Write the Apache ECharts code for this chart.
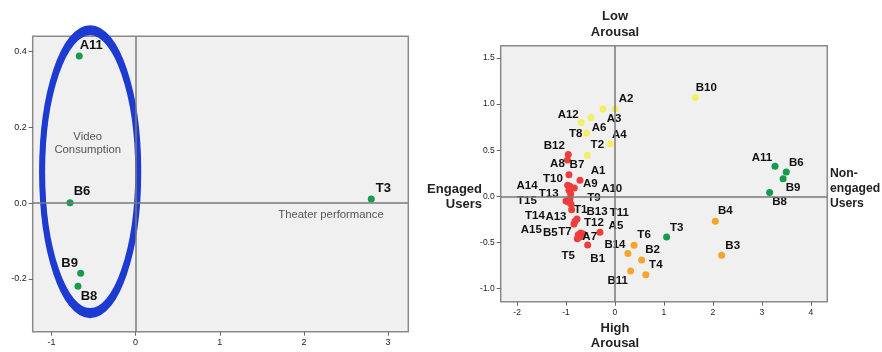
<!DOCTYPE html>
<html><head><meta charset="utf-8">
<script src="https://cdn.jsdelivr.net/npm/echarts@6/dist/echarts.min.js"></script>
<style>html,body{margin:0;padding:0;background:#fff}#c{width:882px;height:352px}</style>
</head><body><div id="c"></div>
<script>
// ---------- Left panel data ----------
const leftNames = ['A11', 'B6', 'B9', 'B8', 'T3'];
const leftX = [-0.67, -0.78, -0.653, -0.685, 2.80];
const leftY = [0.388, 0.001, -0.185, -0.219, 0.011];
const leftXTicks = [-1, 0, 1, 2, 3];
const leftYTicks = [-0.2, 0.0, 0.2, 0.4];

// ---------- Right panel data ----------
const redNames = ['B12','A8','T10','A1','T13','B7','A9','A14','A10','T9','T15','T11','B13','T1','T12','T14','A13','A7','T5','B5','A15','A5','B1','T7'];
const redX = [-0.954,-0.971,-0.940,-0.715,-0.967,-0.920,-0.832,-0.940,-0.905,-0.920,-1.001,-0.954,-0.899,-0.885,-0.776,-0.817,-0.838,-0.701,-0.648,-0.750,-0.770,-0.307,-0.558,-0.715];
const redY = [0.453,0.394,0.234,0.173,0.119,0.108,0.090,0.065,0.025,-0.026,-0.051,-0.062,-0.084,-0.146,-0.246,-0.271,-0.300,-0.398,-0.409,-0.416,-0.460,-0.390,-0.528,-0.441];

const yellowNames = ['A2','A3','A6','A12','T8','A4','T2','B10'];
const yellowX = [0.00,-0.245,-0.49,-0.69,-0.58,-0.095,-0.565,1.64];
const yellowY = [0.95,0.945,0.855,0.80,0.685,0.57,0.445,1.07];

const orangeNames = ['B4','B3','T6','B14','B2','B11','T4'];
const orangeX = [2.05,2.18,0.39,0.265,0.545,0.32,0.63];
const orangeY = [-0.27,-0.64,-0.53,-0.62,-0.69,-0.81,-0.85];

const greenNames = ['A11','B6','B9','B8','T3'];
const greenX = [3.27,3.50,3.435,3.16,1.055];
const greenY = [0.326,0.264,0.19,0.04,-0.44];

const rightXTicks = [-2, -1, 0, 1, 2, 3, 4];
const rightYTicks = [-1.0, -0.5, 0.0, 0.5, 1.0, 1.5];

// ---------- Styling (label offsets in px, relative to point) ----------
const leftLabelOffset = {A11:[12,-11], B6:[12,-11], B9:[-11,-10], B8:[11,10], T3:[12,-11]};
const rightLabelOffset = {
  B12:[-14,-9], A8:[-10,4], T10:[-16,4], A1:[18,-10], T13:[-19,9], B7:[7,-22], A9:[16,-4],
  A14:[-42,-4], A10:[41,-5], T9:[24,-1], T15:[-39,0], T11:[51,11], B13:[26,8], T1:[9,0],
  T12:[17,4], T14:[-40,-5], A13:[-18,-7], A7:[9,4], T5:[-15,22], B5:[-28,-2], A15:[-46,-9],
  A5:[16,-6], B1:[10,14], T7:[-15,-5],
  A2:[11,-10], A3:[11,10], A6:[8,10], A12:[-13,-8], T8:[-11,1], A4:[9,-9], T2:[10,-10], B10:[11,-10],
  B4:[10,-10], B3:[11,-10], T6:[10,-10], B14:[-13,-9], B2:[11,-10], B11:[-13,10], T4:[10,-10],
  A11:[-13,-8], B6:[10,-9], B9:[10,9], B8:[10,9], T3:[10,-9]
};
const FONT = '"Liberation Sans", Arial, sans-serif';
const COLORS = {red:'#ee3d3d', yellow:'#f4ef62', orange:'#f6a52b', green:'#159a4e'};

function pts(names, xs, ys, offs) {
  return names.map((n, i) => ({
    name: n, value: [xs[i], ys[i]],
    label: {offset: offs[n] || [10, -10]}
  }));
}

const chart = echarts.init(document.getElementById('c'), null, {renderer: 'canvas'});

function axisCommon(ticks, fmt, fs) {
  return {
    axisLine: {show: true, onZero: false, lineStyle: {color: '#8a8a8a', width: 1}},
    axisTick: {show: true, inside: false, length: 4, customValues: ticks, lineStyle: {color: '#666'}},
    axisLabel: {customValues: ticks, formatter: fmt, fontSize: fs, color: '#222', fontFamily: FONT, margin: 6},
    splitLine: {show: false}
  };
}

const zeroLines = {
  silent: true, symbol: 'none', label: {show: false}, animation: false,
  lineStyle: {color: '#7a7a7a', width: 1.5, type: 'solid'},
  emphasis: {disabled: true},
  data: [{xAxis: 0}, {yAxis: 0}]
};

function scatter(name, xi, data, color, fs) {
  return {
    type: 'scatter', name, xAxisIndex: xi, yAxisIndex: xi, data,
    symbolSize: 7, itemStyle: {color, opacity: 1},
    label: {show: true, position: 'inside', formatter: '{b}', fontSize: fs, fontWeight: 'bold',
            color: '#111', fontFamily: FONT},
    emphasis: {disabled: true}
  };
}

const txt = (x, y, text, align, fs, weight, color) => ({
  type: 'text', x, y, silent: true,
  style: {text, fill: color, font: `${weight} ${fs}px ${FONT}`, textAlign: align, textVerticalAlign: 'middle'}
});

const leftSeries = scatter('left', 0, pts(leftNames, leftX, leftY, leftLabelOffset), COLORS.green, 13);
leftSeries.markLine = zeroLines;
const redSeries = scatter('red', 1, pts(redNames, redX, redY, rightLabelOffset), COLORS.red, 11.5);
redSeries.markLine = zeroLines;

chart.setOption({
  animation: false,
  backgroundColor: '#ffffff',
  grid: [
    {left: 32.7, top: 36.3, width: 375.6, height: 295.4, show: true, backgroundColor: '#f0f0f0', borderColor: '#8a8a8a', borderWidth: 1.5},
    {left: 500.7, top: 45.7, width: 326.6, height: 256, show: true, backgroundColor: '#f0f0f0', borderColor: '#8a8a8a', borderWidth: 1.5}
  ],
  xAxis: [
    Object.assign({type: 'value', gridIndex: 0, min: -1.223, max: 3.24}, axisCommon(leftXTicks, v => String(v), 9)),
    Object.assign({type: 'value', gridIndex: 1, min: -2.335, max: 4.338}, axisCommon(rightXTicks, v => String(v), 8.5))
  ],
  yAxis: [
    Object.assign({type: 'value', gridIndex: 0, min: -0.339, max: 0.44}, axisCommon(leftYTicks, v => v.toFixed(1), 9)),
    Object.assign({type: 'value', gridIndex: 1, min: -1.142, max: 1.632}, axisCommon(rightYTicks, v => v.toFixed(1), 8.5))
  ],
  series: [
    leftSeries,
    redSeries,
    scatter('yellow', 1, pts(yellowNames, yellowX, yellowY, rightLabelOffset), COLORS.yellow, 11.5),
    scatter('orange', 1, pts(orangeNames, orangeX, orangeY, rightLabelOffset), COLORS.orange, 11.5),
    scatter('green', 1, pts(greenNames, greenX, greenY, rightLabelOffset), COLORS.green, 11.5)
  ]
});

// Annotation ellipse (in data units of the left panel)
const ellipseCenter = [-0.54, 0.083];
const ellipseRx = 0.574, ellipseRy = [0.379, 0.367];
const c = chart.convertToPixel({gridIndex: 0}, ellipseCenter);
const ex = chart.convertToPixel({gridIndex: 0}, [ellipseCenter[0] + ellipseRx, ellipseCenter[1]]);
const rxPx = ex[0] - c[0];
const ryPx = ellipseRy.map(r => c[1] - chart.convertToPixel({gridIndex: 0}, [ellipseCenter[0], ellipseCenter[1] + r])[1]);

chart.setOption({
  graphic: [
    txt(87.7, 136.7, 'Video', 'center', 11.3, 'normal', '#555'),
    txt(87.7, 150.2, 'Consumption', 'center', 11.3, 'normal', '#555'),
    txt(331, 215, 'Theater performance', 'center', 11.3, 'normal', '#555'),
    {type: 'ellipse', silent: true, shape: {cx: c[0], cy: c[1], rx: rxPx, ry: ryPx[0]}, style: {fill: 'none', stroke: '#1d3bd0', lineWidth: 5.5}},
    {type: 'ellipse', silent: true, shape: {cx: c[0], cy: c[1], rx: rxPx - 0.5, ry: ryPx[1]}, style: {fill: 'none', stroke: '#1d3bd0', lineWidth: 5.5}},
    txt(615, 16, 'Low', 'center', 13, 'bold', '#222'),
    txt(615, 32, 'Arousal', 'center', 13, 'bold', '#222'),
    txt(615, 328, 'High', 'center', 13, 'bold', '#222'),
    txt(615, 343.5, 'Arousal', 'center', 13, 'bold', '#222'),
    txt(482, 189, 'Engaged', 'right', 13, 'bold', '#222'),
    txt(482, 204, 'Users', 'right', 13, 'bold', '#222'),
    txt(830, 174, 'Non-', 'left', 12.2, 'bold', '#222'),
    txt(830, 189, 'engaged', 'left', 12.2, 'bold', '#222'),
    txt(830, 204, 'Users', 'left', 12.2, 'bold', '#222')
  ]
});
</script>
</body></html>
